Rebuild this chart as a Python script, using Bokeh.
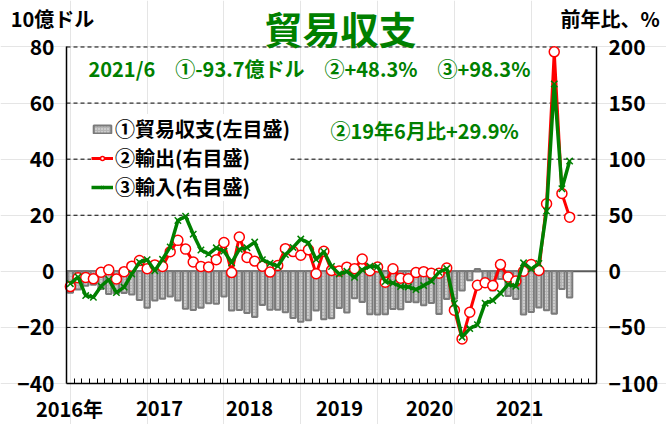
from bokeh.plotting import figure
from bokeh.models import (Range1d, LinearAxis, FixedTicker, Label, Legend,
                          LegendItem, ColumnDataSource)
from bokeh.embed import file_html
from bokeh.resources import INLINE

# monthly data, 2016/1 .. 2021/6
months = list(range(66))
balance = [-7.6, -6.5, -5.1, -4.8, -6.3, -8.1, -7.8, -7.7, -8.3, -10.2, -13.0, -10.4,
           -9.8, -9.0, -10.4, -13.3, -13.8, -13.0, -11.4, -11.6, -9.0, -14.0, -13.8, -14.9,
           -16.3, -12.0, -13.7, -13.7, -14.6, -16.6, -18.0, -17.4, -14.0, -17.1, -16.7, -13.1,
           -14.7, -9.6, -10.9, -15.3, -15.4, -15.3, -13.4, -13.5, -10.9, -11.0, -12.1, -11.3,
           -15.2, -9.9, -9.8, -6.8, -3.2, 0.8, -4.8, -6.8, -2.7, -8.8, -9.9, -15.4,
           -14.5, -12.9, -13.9, -15.1, -6.3, -9.37]
exports = [-13.6, -5.7, -5.5, -6.7, -0.8, 1.3, -6.8, -0.3, 4.6, 9.6, 2.3, 5.7,
           4.3, 17.5, 27.6, 19.8, 8.3, 4.4, 3.9, 10.3, 25.7, -1.1, 30.6, 12.4,
           9.1, 4.5, -0.7, 5.2, 20.2, 17.6, 14.3, 19.2, -2.2, 17.9, 0.8, 0.3,
           3.7, 2.4, 11.0, 0.6, 3.9, -9.7, 2.3, -6.1, -6.6, -1.1, -0.3, -1.8,
           -1.7, 2.9, -34.6, -60.3, -36.5, -12.4, -10.2, -12.7, 6.0, -5.1, -8.7, 0.1,
           6.2, 0.7, 60.3, 195.7, 69.4, 48.3]
imports = [-11.0, -5.0, -21.6, -23.1, -13.2, -7.3, -19.0, -14.1, -2.5, 8.1, 10.4, 0.5,
           10.7, 21.8, 45.3, 49.1, 33.1, 19.0, 15.4, 21.0, 18.1, 7.6, 19.6, 21.1,
           26.1, 10.4, 7.2, 4.6, 14.9, 21.3, 28.8, 25.4, 10.5, 17.6, 4.3, -2.4,
           0.0, -5.4, 1.4, 4.5, 4.3, -9.1, -10.4, -13.5, -13.9, -16.3, -12.7, -8.8,
           -0.8, 2.5, -28.7, -58.7, -51.0, -47.6, -28.4, -26.0, -19.6, -11.6, -13.3, 7.6,
           2.0, 7.0, 53.7, 167.0, 73.6, 98.3]
year_labels = ["2016年", "2017", "2018", "2019", "2020", "2021"]
left_ticks = [-40, -20, 0, 20, 40, 60, 80]
right_ticks = [-100, -50, 0, 50, 100, 150, 200]
grid_ticks = [-20, 20, 40, 60, 80]

JP = "Noto Sans CJK JP"
GREEN = "#008000"

X0, X1 = -0.5, 68.5          # category span of the chart box
Y0, Y1 = -40, 80             # left scale

src = ColumnDataSource(dict(m=months, bal=balance, ex=exports, im=imports))

# the frame covers the whole canvas; axes are pinned at the chart box edges
p = figure(width=666, height=424, output_backend="svg", toolbar_location=None,
           title=None, x_axis_location=None, y_axis_location=None,
           x_range=Range1d(-9.093, 77.614), y_range=Range1d(-54.62, 96.58),
           min_border=0, min_border_left=0, min_border_right=0,
           min_border_top=0, min_border_bottom=0)
p.extra_y_ranges = {"pct": Range1d(-136.55, 241.45)}
p.outline_line_color = None
p.background_fill_color = "white"
p.border_fill_color = "white"

def style_axis(a, size="21px"):
    a.major_tick_in = 0
    a.major_tick_out = 0
    a.minor_tick_in = 0
    a.minor_tick_out = 0
    a.axis_line_color = "black"
    a.axis_line_width = 1.5
    a.major_label_standoff = 12
    a.major_label_text_font = JP
    a.major_label_text_font_style = "bold"
    a.major_label_text_font_size = size
    a.major_label_text_color = "black"

la = LinearAxis(fixed_location=X0, bounds=(Y0, Y1), ticker=FixedTicker(ticks=left_ticks))
style_axis(la)
p.add_layout(la, "left")

ra = LinearAxis(y_range_name="pct", fixed_location=X1, bounds=(-100, 200),
                ticker=FixedTicker(ticks=right_ticks))
style_axis(ra)
p.add_layout(ra, "right")

bounds = [k + 0.5 for k in range(68)]
ba = LinearAxis(fixed_location=Y0, bounds=(X0, X1), ticker=FixedTicker(ticks=bounds))
style_axis(ba, "1px")
ba.major_label_overrides = {b: "" for b in bounds}
ba.major_tick_in = 5
ba.major_tick_line_color = "black"
ba.major_label_standoff = 0
p.add_layout(ba, "below")

# dashed grid and solid zero line
p.segment(x0=X0, x1=X1, y0=grid_ticks, y1=grid_ticks, line_color="black",
          line_width=1, line_dash="4 3")
p.segment(x0=X0, x1=X1, y0=0, y1=0, line_color="#5a5a5a", line_width=2)

bars = p.vbar(x="m", top="bal", bottom=0, width=0.7, source=src,
              fill_color="#b4b4b4", line_color="#7a7a7a", line_width=2,
              hatch_pattern="dot", hatch_color="#f0f0f0", hatch_scale=3,
              hatch_weight=1)

rl = p.line("m", "ex", source=src, y_range_name="pct", line_color="#ff0000",
            line_width=3)
rs = p.scatter("m", "ex", source=src, y_range_name="pct", marker="circle", size=10,
               fill_color="white", line_color="#ff0000", line_width=1.5)
gl = p.line("m", "im", source=src, y_range_name="pct", line_color=GREEN,
            line_width=3.5)
gs = p.scatter("m", "im", source=src, y_range_name="pct", marker="x", size=9,
               line_color=GREEN, line_width=1.5)

legend = Legend(items=[LegendItem(label="①貿易収支(左目盛)", renderers=[bars]),
                       LegendItem(label="②輸出(右目盛)", renderers=[rl, rs]),
                       LegendItem(label="③輸入(右目盛)", renderers=[gl, gs])],
                location=(91, 223), orientation="vertical",
                label_text_font=JP, label_text_font_style="bold",
                label_text_font_size="20px", label_text_color="black",
                glyph_width=22, glyph_height=10, label_height=20, spacing=-1,
                padding=4, margin=0, label_standoff=2,
                background_fill_color="white", background_fill_alpha=1.0,
                border_line_color=None)
p.add_layout(legend)

def lab(x, y, text, size, color="black", align="center"):
    p.add_layout(Label(x=x, y=y, text=text, text_font=JP, text_font_style="bold",
                       text_font_size=size, text_color=color, text_align=align,
                       text_baseline="middle"))

lab(35.17, 86.9, "貿易収支", "38px", GREEN)
lab(-2.32, 90.16, "10億ドル", "20px")
lab(70.26, 90.16, "前年比、%", "20px")
lab(2.36, 72.33, "2021/6\u3000①-93.7億ドル\u3000②+48.3%\u3000③+98.3%", "20px",
    GREEN, "left")
lab(33.87, 50.22, "②19年6月比+29.9%", "20px", GREEN, "left")

for i, t in enumerate(year_labels):
    lab(-0.11 + i * 11.72, -48.9, t, "20px")

open("out.html", "w").write(file_html(p, INLINE))
